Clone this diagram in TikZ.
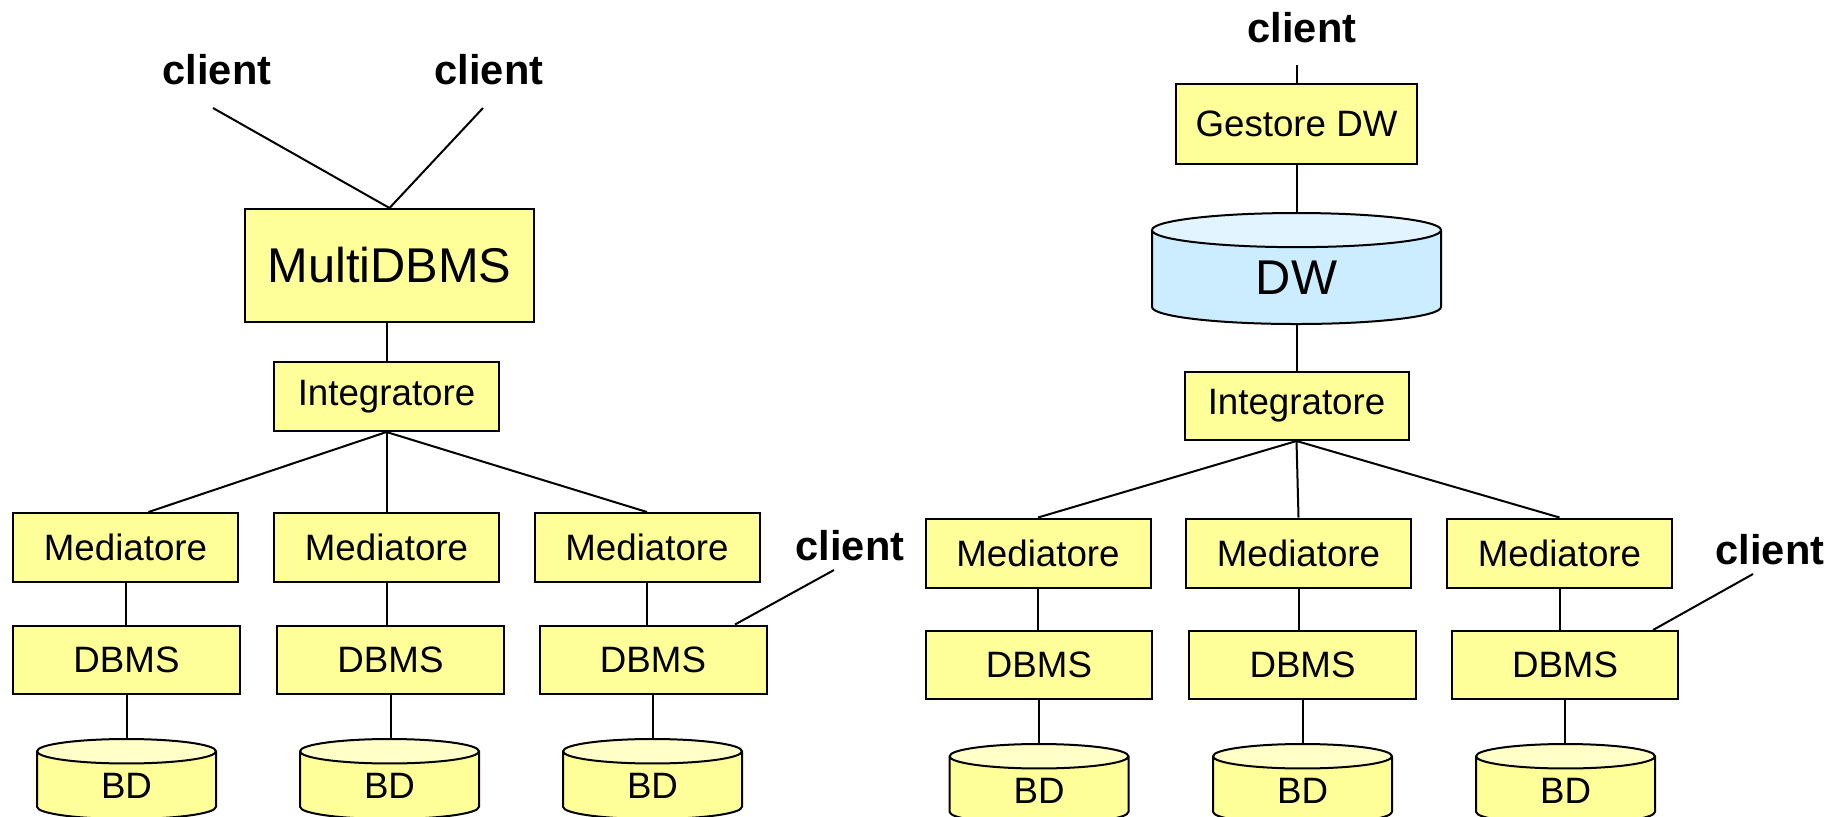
\documentclass[tikz,border=0pt]{standalone}
\usepackage{fontspec}
\setmainfont{Liberation Sans}
\usetikzlibrary{shapes.geometric}
\definecolor{amarelo}{HTML}{FFFF99}
\definecolor{amareloclaro}{HTML}{FFFFC8}
\definecolor{azul}{HTML}{CCECFF}
\definecolor{azulclaro}{HTML}{E2F4FF}

\begin{document}
\begin{tikzpicture}[
            x=0.5pt, y=-0.5pt,
            caixa/.style={shape=rectangle, draw=black, line width=1pt, fill=amarelo, inner sep=0pt, minimum width=112.5pt, minimum height=34.5pt, font=\fontsize{18.35}{22}\selectfont},
            cilindro/.style={shape=cylinder, shape border rotate=90, draw=black, line width=1pt, cylinder uses custom fill, cylinder body fill=amarelo, cylinder end fill=amareloclaro, inner sep=0pt, minimum width=89.5pt, minimum height=40pt, aspect=0.48, anchor=north, font=\fontsize{18.35}{22}\selectfont},
            cliente/.style={anchor=base, inner sep=0pt, font=\bfseries\fontsize{20.8}{25}\selectfont},
            aresta/.style={line width=1pt},
        ]
        \useasboundingbox (0, 0) rectangle (1840, 816);

        \node[cliente] (cl1) at (217, 84) {client};
        \node[cliente] (cl2) at (489, 84) {client};
        \coordinate (p1) at (213, 108);
        \coordinate (p2) at (483, 108);
        \node[caixa, minimum width=144.5pt, minimum height=56.5pt, font=\fontsize{24.4}{29}\selectfont] (multi) at (389.5, 265.5) {MultiDBMS};
        \node[caixa] (intl) at (386.5, 396.5) {Integratore};
        \node[caixa] (ml1) at (125.5, 547.5) {Mediatore};
        \node[caixa] (ml2) at (386.5, 547.5) {Mediatore};
        \node[caixa] (ml3) at (647, 547.5) {Mediatore};
        \node[caixa, minimum width=113.5pt, minimum height=34pt] (dl1) at (126.5, 659.5) {DBMS};
        \node[caixa, minimum width=113.5pt, minimum height=34pt] (dl2) at (390.5, 659.5) {DBMS};
        \node[caixa, minimum width=113.5pt, minimum height=34pt] (dl3) at (653, 659.5) {DBMS};
        \node[cilindro] (bl1) at (126.5, 738) {BD};
        \node[cilindro] (bl2) at (389.5, 738) {BD};
        \node[cilindro] (bl3) at (652.5, 738) {BD};
        \node[cliente] (cl3) at (850, 560) {client};
        \coordinate (p3) at (834, 570);

        \node[cliente] (cr1) at (1302, 42) {client};
        \coordinate (q1) at (1296.5, 65);
        \node[caixa, minimum width=120.5pt, minimum height=40pt] (gest) at (1296.5, 124) {Gestore DW};
        \node[cilindro, minimum width=144.5pt, minimum height=55.5pt, aspect=0.42, cylinder body fill=azul, cylinder end fill=azulclaro, font=\fontsize{24.4}{29}\selectfont] (dw) at (1296.5, 212) {DW};
        \node[caixa, minimum width=112pt, minimum height=34pt] (intr) at (1296.5, 406) {Integratore};
        \node[caixa] (mr1) at (1038, 553) {Mediatore};
        \node[caixa] (mr2) at (1298.5, 553) {Mediatore};
        \node[caixa] (mr3) at (1559.5, 553) {Mediatore};
        \node[caixa, minimum width=113pt, minimum height=34pt] (dr1) at (1039, 665) {DBMS};
        \node[caixa, minimum width=113.5pt, minimum height=34pt] (dr2) at (1302.5, 665) {DBMS};
        \node[caixa, minimum width=113pt, minimum height=34pt] (dr3) at (1565, 665) {DBMS};
        \node[cilindro] (br1) at (1039, 743) {BD};
        \node[cilindro] (br2) at (1302.5, 743) {BD};
        \node[cilindro] (br3) at (1565.5, 743) {BD};
        \node[cliente] (cr2) at (1770, 564) {client};
        \coordinate (q2) at (1753, 574);

        \draw[aresta] (p1) -- (multi.north);
        \draw[aresta] (p2) -- (multi.north);
        \draw[aresta] (intl.north) -- (intl.north |- multi.south);
        \draw[aresta] (intl.south) -- ([xshift=11.5pt]ml1.north);
        \draw[aresta] (intl.south) -- (ml2.north);
        \draw[aresta] (intl.south) -- (ml3.north);
        \draw[aresta] (ml1.south) -- (ml1.south |- dl1.north);
        \draw[aresta] (ml2.south) -- (ml2.south |- dl2.north);
        \draw[aresta] (ml3.south) -- (ml3.south |- dl3.north);
        \draw[aresta] (dl1.south) -- (dl1.south |- bl1.north);
        \draw[aresta] (dl2.south) -- (dl2.south |- bl2.north);
        \draw[aresta] (dl3.south) -- (dl3.south |- bl3.north);
        \draw[aresta] (p3) -- ([xshift=41pt]dl3.north);

        \draw[aresta] (q1) -- (gest.north);
        \draw[aresta] (gest) -- (dw);
        \draw[aresta] (dw) -- (intr);
        \draw[aresta] (intr.south) -- (mr1.north);
        \draw[aresta] (intr.south) -- (mr2.north);
        \draw[aresta] (intr.south) -- (mr3.north);
        \draw[aresta] (mr1.south) -- (mr1.south |- dr1.north);
        \draw[aresta] (mr2.south) -- (mr2.south |- dr2.north);
        \draw[aresta] (mr3.south) -- (mr3.south |- dr3.north);
        \draw[aresta] (dr1.south) -- (dr1.south |- br1.north);
        \draw[aresta] (dr2.south) -- (dr2.south |- br2.north);
        \draw[aresta] (dr3.south) -- (dr3.south |- br3.north);
        \draw[aresta] (q2) -- ([xshift=44pt]dr3.north);

    \end{tikzpicture}
\end{document}
